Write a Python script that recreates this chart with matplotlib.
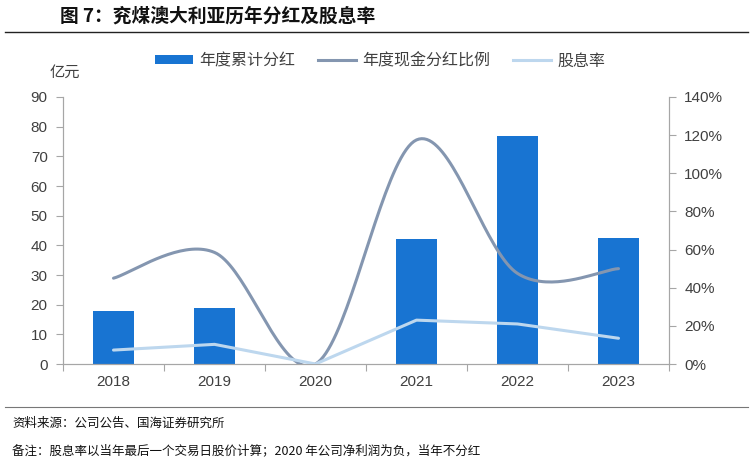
import matplotlib
matplotlib.use("Agg")
import matplotlib.pyplot as plt
import numpy as np
from matplotlib.lines import Line2D
from matplotlib.patches import Patch

plt.rcParams['font.family'] = ['Liberation Sans', 'Noto Sans CJK SC', 'DejaVu Sans']

years = ['2018', '2019', '2020', '2021', '2022', '2023']
dividends = [18.0, 19.0, 0.0, 42.3, 77.0, 42.6]          # 亿元
payout_ratio = [45.0, 58.5, 0.0, 117.5, 47.5, 50.0]      # %
div_yield = [7.3, 10.3, 0.0, 23.0, 21.0, 13.5]           # %

title = '图 7：兖煤澳大利亚历年分红及股息率'
source = '资料来源：公司公告、国海证券研究所'
note = '备注：股息率以当年最后一个交易日股价计算；2020 年公司净利润为负，当年不分红'

BAR_C = '#1874D2'
PAY_C = '#8496B0'
YLD_C = '#BDD7EE'
AX_C = '#A6A6A6'
TXT_C = '#404040'

fig = plt.figure(figsize=(7.53, 4.69), dpi=100)
ax = fig.add_axes([63/753, 1-364/469, (669-63)/753, (364-97)/469])
ax2 = ax.twinx()

x = np.arange(len(years))
ax.bar(x, dividends, width=0.4, color=BAR_C, zorder=2)
ax.set_ylim(0, 90)
ax.set_yticks(range(0, 91, 10))
ax.set_xlim(-0.5, len(years) - 0.5)
ax.set_xticks(x)
ax.set_xticklabels(years)
ax.set_xticks(np.arange(-0.5, len(years), 1), minor=True)
ax.tick_params(axis='x', which='major', length=0, pad=8, labelsize=11, labelcolor=TXT_C)
ax.tick_params(axis='x', which='minor', length=5, color=AX_C, width=0.8)
ax.tick_params(axis='y', length=5, color=AX_C, width=0.8, labelsize=11, labelcolor=TXT_C, pad=6)


def excel_smooth(xs, ys, n=40):
    xs = np.asarray(xs, float)
    ys = np.asarray(ys, float)
    pts = np.column_stack([xs, ys])
    out = []
    m = len(pts)
    for i in range(m - 1):
        p0 = pts[max(i - 1, 0)]
        p1 = pts[i]
        p2 = pts[i + 1]
        p3 = pts[min(i + 2, m - 1)]
        c1 = p1 + (p2 - p0) / 6.0
        c2 = p2 - (p3 - p1) / 6.0
        t = np.linspace(0, 1, n)[:, None]
        seg = ((1 - t) ** 3) * p1 + 3 * ((1 - t) ** 2) * t * c1 + 3 * (1 - t) * t ** 2 * c2 + t ** 3 * p2
        out.append(seg if i == 0 else seg[1:])
    out = np.vstack(out)
    return out[:, 0], out[:, 1]


sx, sy = excel_smooth(x, payout_ratio)
ax2.plot(sx, sy, color=PAY_C, lw=2.2, zorder=3, solid_capstyle='round')
ax2.plot(x, div_yield, color=YLD_C, lw=2.2, zorder=3, solid_capstyle='round')
ax2.set_ylim(0, 140)
ax2.set_yticks(range(0, 141, 20))
ax2.set_yticklabels([f'{v}%' for v in range(0, 141, 20)])
ax2.tick_params(axis='y', length=5, color=AX_C, width=0.8, labelsize=11, labelcolor=TXT_C, pad=6)

for a in (ax, ax2):
    a.spines['top'].set_visible(False)
    for s in ('left', 'right', 'bottom'):
        a.spines[s].set_color(AX_C)
        a.spines[s].set_linewidth(0.8)
ax.set_zorder(1)
ax2.set_zorder(2)
ax2.patch.set_visible(False)

# legend
handles = [Patch(facecolor=BAR_C, edgecolor='none'),
           Line2D([], [], color=PAY_C, lw=2.2),
           Line2D([], [], color=YLD_C, lw=2.2)]
labels = ['年度累计分红', '年度现金分红比例', '股息率']
fig.legend(handles, labels, loc='center', bbox_to_anchor=(0.505, 1-61/469), ncol=3,
           frameon=False, handlelength=2.4, handleheight=0.5,
           columnspacing=1.4, handletextpad=0.4, labelcolor=TXT_C,
           prop={'family': ['Noto Sans CJK SC'], 'size': 11.5})

fig.text(50/753, 1-72/469, '亿元', ha='left', va='center', fontsize=11, color=TXT_C,
         family=['Noto Sans CJK SC'])

# title and frame lines
fig.text(60/753, 1-16/469, title, ha='left', va='center', fontsize=13.5, fontweight='bold',
         color='#111111', family=['Noto Sans CJK SC', 'DejaVu Sans'])
fig.add_artist(Line2D([5/753, 748/753], [1-32/469, 1-32/469], color='#222222', lw=1.0))
fig.add_artist(Line2D([5/753, 748/753], [1-407/469, 1-407/469], color='#777777', lw=0.8))

fig.text(12/753, 1-423/469, source, ha='left', va='center', fontsize=9, color='#111111',
         family=['Noto Sans CJK SC', 'Liberation Sans'])
fig.text(12/753, 1-451/469, note, ha='left', va='center', fontsize=9, color='#111111',
         family=['Noto Sans CJK SC', 'Liberation Sans'])

fig.savefig('out.png', dpi=100)
